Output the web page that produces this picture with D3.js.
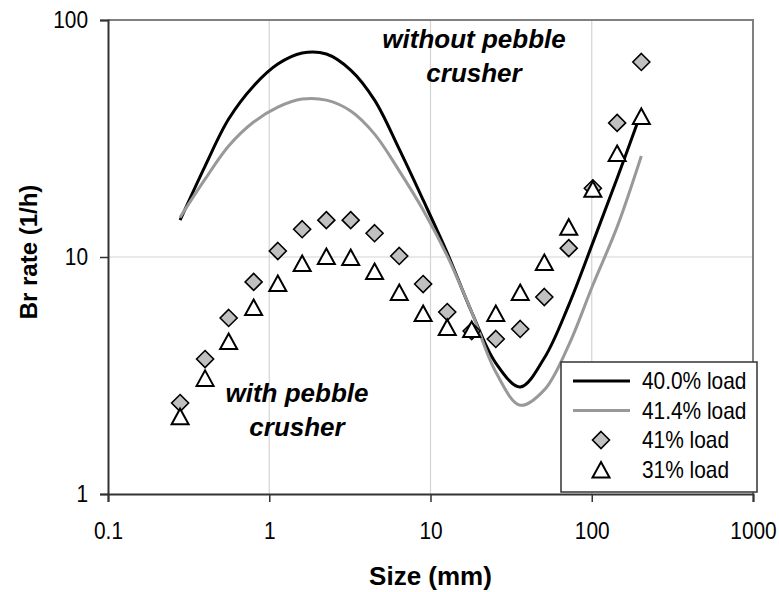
<!DOCTYPE html>
<html>
<head>
    <title>Br rate vs size</title>
    <script src="https://d3js.org/d3.v7.min.js"></script>
    <style>
        body { margin: 0; background: #fff; }
        svg { display: block; }
        .tick-label { font-family: 'Liberation Sans', Arial, sans-serif; font-size: 24px; fill: #000; }
        .title { font-family: 'Liberation Sans', Arial, sans-serif; font-weight: bold; fill: #000; }
        .note { font-family: 'Liberation Sans', Arial, sans-serif; font-weight: bold; font-style: italic; font-size: 26px; fill: #000; }
    </style>
</head>
<body>
<div class="chart"></div>

<script>
    // sieve sizes (mm), sqrt(2) series
    const sizes = [0.28, 0.4, 0.56, 0.8, 1.13, 1.6, 2.26, 3.2, 4.5, 6.4, 9, 12.7, 18, 25.4, 36, 50.8, 72, 101.6, 143.7, 203];

    // fitted curves (without pebble crusher)
    const load40 = [14.3, 24.2, 38.2, 52.7, 65.2, 72.6, 71.9, 61.5, 45.9, 28.5, 17.4, 10.4, 5.86, 3.57, 2.83, 3.75, 6.27, 11.5, 21.5, 40.9];
    const load414 = [14.7, 21.3, 29.4, 37.1, 42.9, 46.4, 45.9, 41.3, 33.0, 23.1, 15.8, 10.1, 5.86, 3.27, 2.37, 2.75, 4.25, 7.62, 13.4, 26.7];

    // measured points (with pebble crusher)
    const load41 = [2.42, 3.71, 5.53, 7.85, 10.6, 13.1, 14.3, 14.3, 12.6, 10.1, 7.69, 5.86, 4.87, 4.51, 4.97, 6.78, 10.9, 19.5, 36.8, 66.5];
    const load31 = [2.11, 3.06, 4.38, 6.09, 7.69, 9.34, 10.0, 9.9, 8.64, 7.05, 5.75, 5.02, 4.92, 5.75, 7.05, 9.43, 13.3, 19.2, 27.2, 39.0];

    const xTicks = [0.1, 1, 10, 100, 1000];
    const yTicks = [1, 10, 100];
    const legendLabels = ["40.0% load", "41.4% load", "41% load", "31% load"];

    const W = 779, H = 592;
    const margin = {top: 20, right: 26, bottom: 98, left: 108};
    const width = W - margin.left - margin.right,
          height = H - margin.top - margin.bottom;
    const squeeze = 0.87; // labels in the original are a narrow face

    const svg = d3.select(".chart").append("svg").attr("width", W).attr("height", H);
    const g = svg.append("g").attr("transform", "translate(" + margin.left + "," + margin.top + ")");

    const x = d3.scaleLog().domain([0.1, 1000]).range([0, width]);
    const y = d3.scaleLog().domain([1, 100]).range([height, 0]);

    // grid
    g.selectAll(".vgrid").data([1, 10, 100]).enter().append("line")
        .attr("x1", d => x(d)).attr("x2", d => x(d))
        .attr("y1", 0).attr("y2", height)
        .attr("stroke", "#d4d4d4").attr("stroke-width", 1.2);
    g.selectAll(".hgrid").data([10]).enter().append("line")
        .attr("x1", 0).attr("x2", width)
        .attr("y1", d => y(d)).attr("y2", d => y(d))
        .attr("stroke", "#d4d4d4").attr("stroke-width", 1.2);

    // top / right frame
    g.append("path")
        .attr("d", "M0,0H" + width + "V" + height)
        .attr("fill", "none").attr("stroke", "#808080").attr("stroke-width", 2);

    // axes
    const xAxis = g.append("g")
        .attr("transform", "translate(0," + height + ")")
        .call(d3.axisBottom(x).tickValues(xTicks).tickSize(8).tickPadding(20).tickFormat(d => String(d)));
    const yAxis = g.append("g")
        .call(d3.axisLeft(y).tickValues(yTicks).tickSize(8).tickPadding(12).tickFormat(d => String(d)));

    [xAxis, yAxis].forEach(a => {
        a.select(".domain").attr("stroke", "#333").attr("stroke-width", 2);
        a.selectAll(".tick line").attr("stroke", "#333").attr("stroke-width", 1.5);
        a.selectAll(".tick text").attr("class", "tick-label").attr("fill", "#000");
    });
    xAxis.selectAll(".tick text").attr("dy", "0.71em")
        .attr("transform", "scale(" + squeeze + ",1)");
    yAxis.selectAll(".tick text")
        .attr("x", -20 / squeeze)
        .attr("transform", "scale(" + squeeze + ",1)");

    // curves
    const line = d3.line()
        .x((d, i) => x(sizes[i]))
        .y(d => y(d))
        .curve(d3.curveCatmullRom.alpha(0.5));

    g.append("path").datum(load40)
        .attr("fill", "none").attr("stroke", "#000").attr("stroke-width", 3)
        .attr("stroke-linejoin", "round").attr("d", line);
    g.append("path").datum(load414)
        .attr("fill", "none").attr("stroke", "#999").attr("stroke-width", 3)
        .attr("stroke-linejoin", "round").attr("d", line);

    // markers
    const diamond = "M0,-8.5L8.5,0L0,8.5L-8.5,0Z";
    const triangle = "M0,-8.5L8.5,7L-8.5,7Z";

    g.selectAll(".dia").data(load41).enter().append("path")
        .attr("transform", (d, i) => "translate(" + x(sizes[i]) + "," + y(d) + ")")
        .attr("d", diamond)
        .attr("fill", "#c0c0c0").attr("stroke", "#000").attr("stroke-width", 1.6);

    g.selectAll(".tri").data(load31).enter().append("path")
        .attr("transform", (d, i) => "translate(" + x(sizes[i]) + "," + y(d) + ")")
        .attr("d", triangle)
        .attr("fill", "#fff").attr("stroke", "#000").attr("stroke-width", 2);

    // annotations
    const note1 = g.append("text").attr("class", "note").attr("text-anchor", "middle");
    note1.append("tspan").attr("x", 366).attr("y", 28).text("without pebble");
    note1.append("tspan").attr("x", 366).attr("y", 62).text("crusher");

    const note2 = g.append("text").attr("class", "note").attr("text-anchor", "middle");
    note2.append("tspan").attr("x", 189).attr("y", 382).text("with pebble");
    note2.append("tspan").attr("x", 189).attr("y", 416).text("crusher");

    // axis titles
    svg.append("text").attr("class", "title")
        .attr("x", margin.left + x(10)).attr("y", 585)
        .attr("text-anchor", "middle").style("font-size", "26px")
        .text("Size (mm)");
    svg.append("text").attr("class", "title")
        .attr("transform", "translate(37," + (margin.top + y(10) - 5) + ") rotate(-90)")
        .attr("text-anchor", "middle").style("font-size", "24px")
        .text("Br rate (1/h)");

    // legend
    const legend = svg.append("g").attr("transform", "translate(561,362)");
    legend.append("rect")
        .attr("width", 196).attr("height", 130)
        .attr("fill", "#fff").attr("stroke", "#333").attr("stroke-width", 1.5);

    const rows = legend.selectAll(".row").data(legendLabels).enter().append("g")
        .attr("transform", (d, i) => "translate(0," + (19 + i * 29.5) + ")");
    rows.append("g").attr("transform", "translate(81,0) scale(" + squeeze + ",1)")
        .append("text").attr("class", "tick-label")
        .attr("dy", "0.35em")
        .text(d => d);

    rows.filter((d, i) => i === 0).append("line")
        .attr("x1", 12).attr("x2", 69).attr("stroke", "#000").attr("stroke-width", 3);
    rows.filter((d, i) => i === 1).append("line")
        .attr("x1", 12).attr("x2", 69).attr("stroke", "#999").attr("stroke-width", 3);
    rows.filter((d, i) => i === 2).append("path")
        .attr("transform", "translate(40,0)").attr("d", diamond)
        .attr("fill", "#c0c0c0").attr("stroke", "#000").attr("stroke-width", 1.6);
    rows.filter((d, i) => i === 3).append("path")
        .attr("transform", "translate(40,1)").attr("d", triangle)
        .attr("fill", "#fff").attr("stroke", "#000").attr("stroke-width", 2);
</script>
</body>
</html>
